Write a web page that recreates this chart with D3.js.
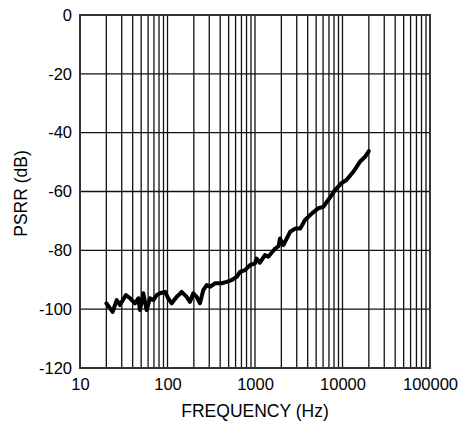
<!DOCTYPE html>
<html>
<head>
<meta charset="utf-8">
<script src="https://cdn.jsdelivr.net/npm/d3@7"></script>
<style>
  body { margin: 0; background: #fff; }
  text { font-family: "Liberation Sans", Arial, sans-serif; fill: #000; }
</style>
</head>
<body>
<div id="chart"></div>
<script>
// PSRR vs frequency
const freqHz = [20, 23.6, 26.3, 28.6, 33.5, 37.3, 42.5, 46.4, 48.5, 52.9, 57.8, 63.1, 68.8, 75.3,
  82.1, 93.6, 102, 111.7, 127.4, 139, 145, 165.7, 180.7, 197, 215.6, 235, 256.6, 280.5, 306,
  349, 416, 475, 542, 618, 674, 769, 877, 1000, 1040, 1136, 1300, 1420,
  1700, 1860, 1930, 2110, 2520, 2880, 3290, 3730, 4440, 5300, 6030, 6860, 8200, 9700,
  11100, 13300, 15800, 18100, 20000];
const psrrDb = [-98.0, -100.9, -96.9, -98.6, -95.2, -96.3, -98.0, -96.3, -100.3, -94.6, -100.3, -96.3, -96.9, -95.2,
  -94.6, -94.1, -96.3, -98.0, -95.8, -94.8, -94.1, -95.8, -97.5, -94.6, -95.8, -98.0, -93.5, -91.8, -92.4,
  -91.2, -91.2, -90.7, -90.1, -89.0, -87.3, -86.7, -85.0, -84.4, -82.8, -84.2, -81.6, -82.2,
  -79.4, -78.6, -76, -78.2, -73.7, -72.6, -72.6, -69.7, -67.5, -65.7, -65.2, -62.9, -59.5, -57.2,
  -56.1, -53.3, -49.9, -48.2, -46.3];
const xTicks = [10, 100, 1000, 10000, 100000];
const yTicks = [0, -20, -40, -60, -80, -100, -120];

const width = 467, height = 425;
const margin = {top: 15, right: 37, bottom: 57, left: 80};
const w = width - margin.left - margin.right;
const h = height - margin.top - margin.bottom;

const svg = d3.select('#chart').append('svg')
    .attr('width', width)
    .attr('height', height);

const chart = svg.append('g')
    .attr('transform', `translate(${margin.left},${margin.top})`);

const x = d3.scaleLog().domain([10, 100000]).range([0, w]);
const y = d3.scaleLinear().domain([-120, 0]).range([h, 0]);

// minor + major vertical grid (2..9 in every decade)
const vGrid = [];
for (let d = 10; d < 100000; d *= 10) {
  for (let m = 1; m <= 9; m++) vGrid.push(d * m);
}
vGrid.push(100000);

chart.append('g')
    .selectAll('line')
    .data(vGrid)
  .join('line')
    .attr('x1', d => x(d)).attr('x2', d => x(d))
    .attr('y1', 0).attr('y2', h)
    .attr('stroke', '#111')
    .attr('stroke-width', 1.3);

chart.append('g')
    .selectAll('line')
    .data(yTicks)
  .join('line')
    .attr('x1', 0).attr('x2', w)
    .attr('y1', d => y(d)).attr('y2', d => y(d))
    .attr('stroke', '#111')
    .attr('stroke-width', 1.3);

chart.append('rect')
    .attr('width', w).attr('height', h)
    .attr('fill', 'none')
    .attr('stroke', '#333')
    .attr('stroke-width', 2);

// axes: labels only, plain hyphen for negatives
const xAxis = d3.axisBottom(x).tickValues(xTicks).tickSize(0).tickPadding(10)
    .tickFormat(d => String(d));
const yAxis = d3.axisLeft(y).tickValues(yTicks).tickSize(0).tickPadding(8)
    .tickFormat(d => String(d));

const xg = chart.append('g').attr('transform', `translate(0,${h})`).call(xAxis);
const yg = chart.append('g').call(yAxis);
[xg, yg].forEach(g => {
  g.select('.domain').remove();
  g.selectAll('text')
      .style('font-family', '"Liberation Sans", Arial, sans-serif')
      .style('font-size', '16.5px')
      .attr('fill', '#000');
});

// data line
const line = d3.line()
    .x((d, i) => x(freqHz[i]))
    .y(d => y(d));

chart.append('path')
    .datum(psrrDb)
    .attr('d', line)
    .attr('fill', 'none')
    .attr('stroke', '#000')
    .attr('stroke-width', 4)
    .attr('stroke-linejoin', 'round')
    .attr('stroke-linecap', 'round');

// axis titles
svg.append('text')
    .attr('x', margin.left + w / 2)
    .attr('y', 417)
    .style('text-anchor', 'middle')
    .style('font-size', '17.5px')
    .text('FREQUENCY (Hz)');

svg.append('text')
    .attr('transform', `translate(27,${margin.top + h / 2 + 2}) rotate(-90)`)
    .style('text-anchor', 'middle')
    .style('font-size', '17.5px')
    .text('PSRR (dB)');
</script>
</body>
</html>
